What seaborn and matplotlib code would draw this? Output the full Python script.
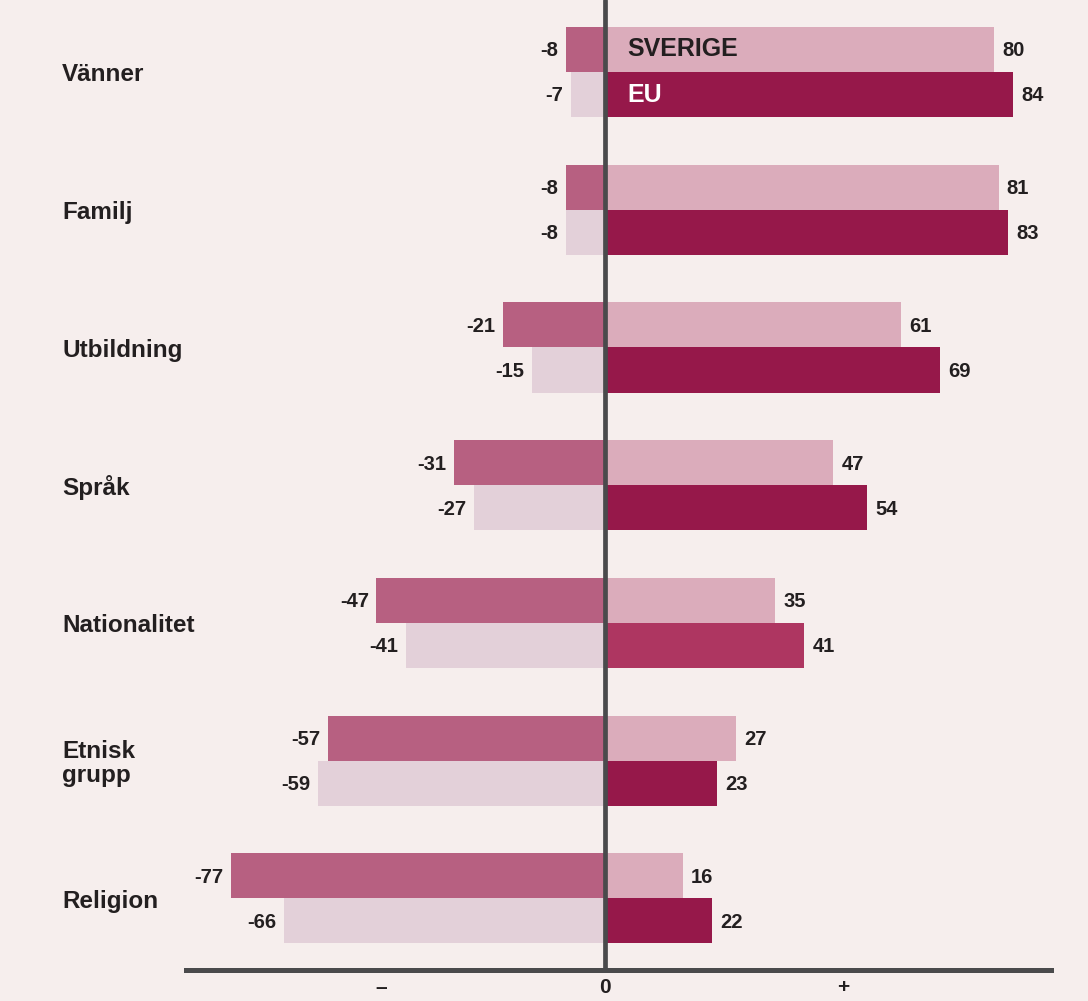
import numpy as np
import pandas as pd
import seaborn as sns
import matplotlib.pyplot as plt
from matplotlib import transforms

# data
categories = ['Vänner', 'Familj', 'Utbildning', 'Språk', 'Nationalitet', 'Etnisk\ngrupp', 'Religion']
sverige_neg = [-8, -8, -21, -31, -47, -57, -77]
eu_neg = [-7, -8, -15, -27, -41, -59, -66]
sverige_pos = [80, 81, 61, 47, 35, 27, 16]
eu_pos = [84, 83, 69, 54, 41, 23, 22]
series = ['SVERIGE', 'EU']
tick_pos = [-46, 0, 49]
tick_labels = ['–', '0', '+']

BG = '#f6eeed'
DARK = '#231f20'
LINE = '#4a4a4c'

neg = pd.DataFrame({
    'kategori': categories * 2,
    'serie': [series[0]] * 7 + [series[1]] * 7,
    'varde': sverige_neg + eu_neg,
})
pos = pd.DataFrame({
    'kategori': categories * 2,
    'serie': [series[0]] * 7 + [series[1]] * 7,
    'varde': sverige_pos + eu_pos,
})

sns.set_theme(style='white')
plt.rcParams['font.family'] = ['Liberation Sans', 'DejaVu Sans']

fig = plt.figure(figsize=(10.88, 10.01), dpi=100, facecolor=BG)
W, H = 1088, 1001
ax = fig.add_axes([186 / W, 1 - 970 / H, (1051 - 186) / W, 970 / H])
ax.set_facecolor(BG)

sns.barplot(data=neg, y='kategori', x='varde', hue='serie', orient='h',
            palette=['#b76081', '#e3d0d9'], width=0.655, gap=0,
            errorbar=None, legend=False, ax=ax, saturation=1, edgecolor='none')
sns.barplot(data=pos, y='kategori', x='varde', hue='serie', orient='h',
            palette=['#dbacbb', '#96184a'], width=0.655, gap=0,
            errorbar=None, legend=False, ax=ax, saturation=1, edgecolor='none')
# Nationalitet EU positive bar is a lighter crimson in the original
ax.containers[3][4].set_facecolor('#ae3661')

ax.set_xlim(-86.2, 91.8)
ax.set_ylim(6.52, -0.523)

# value labels
for cont in ax.containers:
    for bar in cont:
        v = bar.get_width()
        yc = bar.get_y() + bar.get_height() / 2
        if v < 0:
            ax.annotate(f'{int(round(v))}', (v, yc), xytext=(-5.5, -1), textcoords='offset points',
                        ha='right', va='center', fontsize=14.5, fontweight='bold', color=DARK)
        else:
            ax.annotate(f'{int(round(v))}', (v, yc), xytext=(6, -1), textcoords='offset points',
                        ha='left', va='center', fontsize=14.5, fontweight='bold', color=DARK)

# series names inside first pair of bars
first_sv = ax.containers[2][0]
first_eu = ax.containers[3][0]
ax.annotate('SVERIGE', (0, first_sv.get_y() + first_sv.get_height() / 2), xytext=(16, 0),
            textcoords='offset points', ha='left', va='center', fontsize=18, fontweight='bold', color=DARK)
ax.annotate('EU', (0, first_eu.get_y() + first_eu.get_height() / 2), xytext=(16, 0),
            textcoords='offset points', ha='left', va='center', fontsize=18, fontweight='bold', color='white')

# category labels on the left
trans = transforms.blended_transform_factory(fig.transFigure, ax.transData)
for i, cat in enumerate(categories):
    ax.annotate(cat, (62 / W, i), xycoords=trans, xytext=(0, -2), textcoords='offset points',
                ha='left', va='center', fontsize=17.5, fontweight='bold', color=DARK,
                linespacing=1.05, annotation_clip=False)

ax.axvline(0, color=LINE, lw=3.4, zorder=5)

for s in ['top', 'right', 'left']:
    ax.spines[s].set_visible(False)
ax.spines['bottom'].set_color(LINE)
ax.spines['bottom'].set_linewidth(3.6)
ax.set_yticks([])
ax.set_xticks(tick_pos)
ax.set_xticklabels(tick_labels, fontsize=15, fontweight='bold', color=DARK)
ax.tick_params(axis='x', length=0, pad=6)
ax.set_xlabel('')
ax.set_ylabel('')

fig.savefig('out.png', dpi=100, facecolor=BG)
